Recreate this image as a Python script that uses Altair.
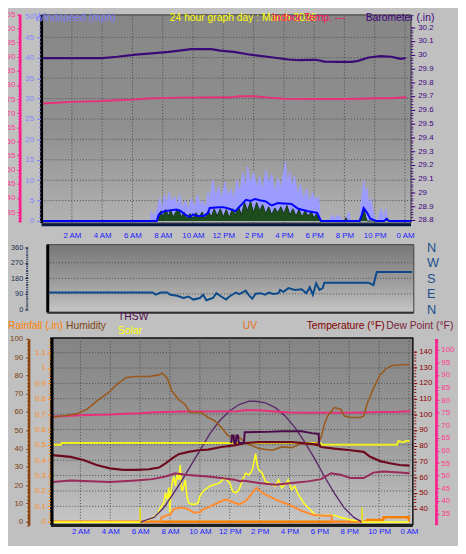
import altair as alt
import pandas as pd

FONT = "Liberation Sans"

# ---------------- data: (hour of day, value) ----------------
indoor_temp = [(0, 73.4), (1, 73.7), (2, 74.0), (4, 74.3), (5, 74.6), (6, 74.8), (7, 75.2),
               (9, 75.5), (12.5, 75.6), (13, 76.0), (14, 76.0), (15, 75.5), (16, 75.1),
               (18, 75.0), (20, 75.0), (21, 75.1), (22, 75.3), (23, 75.3), (24.1, 75.6)]

barometer = [(0, 29.975), (2, 29.975), (4, 29.975), (5, 29.985), (6.2, 30.0), (7.3, 30.01),
             (8.4, 30.02), (9.9, 30.04), (10.5, 30.04), (11.2, 30.04), (11.8, 30.03),
             (12.7, 30.02), (13.8, 30.0), (15.3, 29.98), (16.3, 29.965), (17.0, 29.96),
             (18.1, 29.963), (18.7, 29.95), (19.5, 29.948), (20.5, 29.948), (20.9, 29.955),
             (21.6, 29.98), (22.4, 29.99), (23.1, 29.985), (23.7, 29.97), (24.05, 29.976)]

wind_gust = [(0, 0), (7.2, 0), (7.25, 2.5), (7.4, 1.0), (7.6, 2.5), (7.8, 5.5), (8.0, 3.0), (8.1, 6.5),
             (8.3, 4.0), (8.4, 7.0), (8.6, 4.5), (8.8, 6.0), (9.0, 3.5), (9.1, 6.5), (9.3, 3.0),
             (9.5, 5.0), (9.7, 2.5), (9.9, 5.5), (10.1, 3.0), (10.3, 6.5), (10.5, 3.5), (10.6, 5.0),
             (10.8, 3.0), (11.0, 7.0), (11.1, 4.5), (11.3, 10.0), (11.5, 6.0), (11.7, 8.5),
             (11.9, 5.0), (12.1, 9.5), (12.3, 6.0), (12.5, 8.0), (12.7, 5.0), (12.9, 10.0),
             (13.1, 7.0), (13.3, 12.0), (13.5, 8.0), (13.6, 13.5), (13.8, 9.0), (14.0, 12.0),
             (14.2, 8.0), (14.4, 11.0), (14.6, 7.5), (14.8, 12.5), (15.0, 9.0), (15.2, 11.5),
             (15.4, 7.0), (15.6, 10.5), (15.8, 8.0), (16.0, 12.0), (16.1, 14.5), (16.25, 9.0),
             (16.4, 12.0), (16.55, 8.0), (16.7, 11.0), (16.9, 6.5), (17.1, 9.0), (17.3, 5.0),
             (17.5, 8.0), (17.7, 4.5), (17.9, 7.0), (18.1, 5.0), (18.3, 6.0), (18.4, 0.5),
             (18.6, 0), (19.0, 0), (19.2, 1.5), (19.4, 0.5), (19.6, 1.5), (19.8, 0.3), (20.0, 0),
             (20.3, 2.2), (20.4, 0), (21.0, 0), (21.1, 4.0), (21.27, 10.0), (21.4, 6.5),
             (21.5, 8.0), (21.6, 4.0), (21.75, 5.5), (21.9, 2.0), (22.0, 0.5), (22.2, 0),
             (22.4, 3.0), (22.6, 1.0), (22.75, 3.0), (22.85, 0), (24.4, 0)]

wind_low = [(0, 0), (7.6, 0), (7.7, 1.5), (7.9, 2.5), (8.0, 1.0), (8.2, 2.8), (8.4, 1.2), (8.5, 2.8),
            (8.7, 1.0), (8.9, 2.4), (9.1, 2.8), (9.2, 0.8), (9.4, 2.2), (9.6, 0.5), (9.8, 1.8),
            (10.0, 0.6), (10.2, 2.0), (10.4, 0.8), (10.6, 2.2), (10.8, 0.5), (11.0, 2.5),
            (11.2, 1.0), (11.4, 3.0), (11.6, 1.2), (11.8, 3.0), (12.0, 1.0), (12.2, 2.8),
            (12.4, 0.8), (12.6, 3.0), (12.8, 1.5), (13.0, 3.5), (13.2, 1.5), (13.4, 4.5),
            (13.6, 2.5), (13.8, 4.8), (14.0, 2.0), (14.2, 4.5), (14.4, 2.5), (14.6, 4.0),
            (14.8, 1.8), (15.0, 3.5), (15.2, 1.5), (15.4, 3.2), (15.6, 2.0), (15.8, 3.5),
            (16.0, 1.8), (16.2, 3.8), (16.4, 1.5), (16.6, 3.0), (16.8, 1.2), (17.0, 2.8),
            (17.2, 1.0), (17.4, 2.5), (17.6, 1.2), (17.8, 2.2), (18.0, 0.8), (18.2, 2.0),
            (18.35, 0), (20.0, 0), (20.1, 0.8), (20.2, 0), (21.1, 0), (21.2, 2.5), (21.3, 3.0),
            (21.4, 1.0), (21.5, 0), (22.7, 0), (22.8, 0.8), (22.9, 0), (24.4, 0)]

wind_avg = [(0, 0), (7.6, 0), (7.75, 1.6), (8.1, 2.4), (8.5, 2.6), (8.9, 2.8), (9.2, 2.4), (9.5, 1.5),
            (9.8, 1.0), (10.0, 1.6), (10.3, 1.2), (10.7, 1.2), (11.0, 2.0), (11.1, 3.2), (11.5, 3.3),
            (12.0, 3.4), (12.4, 3.0), (12.8, 2.4), (13.05, 3.4), (13.5, 5.2), (13.8, 4.9),
            (14.1, 5.4), (14.5, 5.0), (14.8, 4.8), (15.2, 3.8), (15.6, 4.4), (16.0, 4.3),
            (16.5, 4.2), (16.95, 3.0), (17.6, 2.4), (18.2, 2.0), (18.45, 0), (21.0, 0),
            (21.15, 1.5), (21.27, 3.2), (21.5, 2.0), (21.7, 0.6), (22.1, 0), (22.6, 0),
            (22.79, 0.5), (22.95, 0), (24.4, 0)]

wind_dir = [(0, 98), (6.83, 98), (7.05, 86), (7.37, 98), (7.8, 98), (8.02, 85), (8.46, 79),
            (8.89, 66), (9.21, 75), (9.54, 57), (9.97, 66), (10.19, 85), (10.4, 53), (10.84, 66),
            (11.06, 94), (11.38, 75), (11.71, 57), (11.92, 75), (12.36, 98), (12.57, 89),
            (12.79, 98), (13.0, 109), (13.22, 81), (13.44, 62), (13.66, 91), (13.98, 94),
            (14.3, 85), (14.52, 98), (14.85, 89), (15.18, 94), (15.28, 113), (15.5, 102),
            (15.83, 123), (16.26, 113), (16.7, 117), (17.02, 94), (17.24, 128), (17.45, 85),
            (17.67, 151), (17.89, 113), (18.1, 123), (18.21, 155), (21.13, 155), (21.46, 141),
            (21.68, 217), (24.02, 217)]

humidity = [(0.13, 57.3), (0.9, 57.9), (1.78, 59.1), (2.43, 61.5), (3.09, 66.0), (3.53, 68.6),
            (3.97, 71.3), (4.41, 74.9), (5.07, 78.9), (5.72, 79.4), (6.6, 79.4), (7.26, 80.3),
            (7.48, 81.2), (7.81, 78.5), (8.14, 71.3), (8.58, 66.8), (9.01, 64.1), (9.34, 59.7),
            (10.11, 59.7), (10.55, 57.0), (10.99, 55.2), (11.43, 51.6), (11.87, 47.1),
            (12.2, 46.2), (12.63, 46.2), (13.07, 43.0), (13.95, 40.0), (14.83, 39.1),
            (15.49, 40.9), (16.14, 40.5), (16.8, 42.7), (17.46, 42.3), (17.89, 43.0),
            (18.12, 46.2), (18.34, 53.4), (18.56, 57.9), (19.0, 62.4), (19.43, 61.5),
            (19.65, 57.9), (20.09, 57.0), (20.75, 57.0), (20.97, 57.9), (21.18, 64.1),
            (21.63, 73.1), (22.07, 80.3), (22.5, 83.9), (22.94, 85.6), (24.04, 86.0)]

temperature = [(0.13, 74.0), (1.34, 72.9), (2.2, 70.9), (3.09, 67.7), (3.97, 65.6), (4.85, 64.6),
               (5.72, 64.6), (6.6, 65.0), (7.26, 66.1), (7.7, 68.8), (8.14, 71.9), (8.58, 74.6),
               (9.23, 76.1), (9.89, 77.1), (10.55, 77.5), (11.43, 79.2), (12.3, 80.2),
               (13.07, 81.7), (13.95, 82.3), (16.14, 82.3), (17.46, 81.2), (18.01, 80.2),
               (18.12, 79.2), (19.0, 78.1), (20.09, 77.1), (20.97, 76.1), (21.4, 72.9),
               (22.07, 70.2), (22.72, 68.8), (23.38, 67.7), (24.04, 67.3)]

dew_point = [(0.13, 56.9), (1.34, 57.9), (3.97, 56.9), (5.72, 57.9), (6.82, 58.75), (7.7, 60.4),
             (8.36, 62.5), (8.58, 62.1), (9.01, 61.5), (9.89, 60.9), (10.55, 60.4), (11.43, 59.4),
             (12.3, 58.4), (12.74, 57.3), (12.85, 57.9), (13.95, 56.3), (15.05, 55.2),
             (16.14, 56.3), (17.24, 57.3), (18.12, 58.75), (18.78, 62.5), (19.43, 61.5),
             (20.09, 59.4), (20.97, 59.4), (21.62, 62.9), (22.28, 63.6), (23.38, 62.9),
             (24.04, 62.5)]

thsw = [(12.1, 81.7), (12.15, 86.5), (12.25, 86.5), (12.3, 81.7), (12.4, 81.7), (12.45, 86.5),
        (12.55, 86.5), (12.6, 81.7), (12.95, 81.7), (13.0, 88.6), (14.5, 88.8), (15.5, 89.2),
        (16.8, 89.2), (17.5, 88.0), (17.95, 87.5), (18.0, 80.2)]

indoor_humidity = [(0, 42.1), (0.7, 42.1), (0.75, 43.0), (18.1, 43.0), (18.15, 42.1), (23.2, 42.1),
                   (23.3, 44.1), (23.6, 43.4), (23.8, 44.1), (24.04, 44.1)]

solar = [(0, 0), (6.01, 0), (6.27, 3), (6.71, 17), (7.15, 44), (7.37, 80), (7.59, 106), (7.7, 160),
         (7.81, 124), (7.92, 187), (7.99, 53), (8.03, 142), (8.14, 214), (8.25, 249), (8.36, 196),
         (8.47, 258), (8.58, 231), (8.69, 312), (8.75, 196), (8.82, 169), (8.91, 196),
         (9.02, 231), (9.13, 142), (9.24, 106), (9.45, 97), (9.67, 97), (9.89, 106), (10.0, 142),
         (10.22, 169), (10.66, 196), (11.32, 214), (11.65, 240), (11.98, 217), (12.19, 169),
         (12.41, 160), (12.63, 178), (12.85, 231), (13.07, 267), (13.29, 258), (13.51, 285),
         (13.62, 330), (13.73, 374), (13.84, 312), (13.95, 285), (14.17, 267), (14.39, 222),
         (14.61, 214), (14.83, 205), (15.05, 196), (15.27, 231), (15.48, 187), (15.7, 205),
         (15.92, 231), (16.14, 178), (16.36, 196), (16.58, 151), (16.8, 124), (17.02, 97),
         (17.24, 80), (17.46, 62), (17.68, 44), (17.9, 35), (18.34, 38), (18.99, 38),
         (19.43, 26), (20.09, 13), (20.86, 0), (24.0, 0)]

solar_max = [(6.01, 0), (6.93, 26), (7.59, 79), (8.03, 133), (8.69, 213), (9.35, 303), (10.0, 392),
             (10.66, 482), (11.32, 553), (11.98, 607), (12.63, 642), (13.29, 660), (13.73, 660),
             (14.39, 651), (15.05, 625), (15.7, 580), (16.36, 517), (17.02, 437), (17.68, 347),
             (18.34, 249), (18.99, 160), (19.65, 79), (20.31, 26), (20.86, 0)]

uv_index = [(6.0, 0), (7.4, 0), (7.42, 0.26), (8.03, 0.44), (8.25, 0.71), (8.69, 0.80), (9.13, 0.74),
            (9.57, 0.53), (10.0, 0.53), (10.22, 0.71), (10.66, 0.85), (11.32, 1.10), (11.76, 1.24),
            (12.19, 1.10), (12.63, 0.97), (13.07, 1.15), (13.51, 1.6), (13.78, 1.87), (14.17, 1.6),
            (14.61, 1.42), (15.05, 1.24), (15.48, 1.10), (15.92, 0.97), (16.36, 0.80),
            (16.8, 0.62), (17.24, 0.49), (17.68, 0.38), (17.9, 0.38), (18.34, 0.35),
            (18.82, 0.35), (18.84, 0), (20.86, 0)]

rainfall = [(0, 0), (21.19, 0), (21.2, 0.011), (22.28, 0.011), (22.3, 0.028), (23.98, 0.028), (24.0, 0)]

sun_events = [6.0, 20.86]

hour_ticks = [2, 4, 6, 8, 10, 12, 14, 16, 18, 20, 22, 24]
wind_ticks = [0, 5, 10, 15, 20, 25, 30, 35, 40, 45, 50]
wind_minor = list(range(0, 51))
wind_grid = [5, 10, 15, 20, 25, 30, 35, 40, 45]
baro_ticks = [28.8, 28.9, 29.0, 29.1, 29.2, 29.3, 29.4, 29.5, 29.6, 29.7, 29.8, 29.9, 30.0, 30.1, 30.2]
baro_minor = [round(28.8 + 0.02 * i, 2) for i in range(71)]
indoor1_ticks = [35, 40, 45, 50, 55, 60, 65, 70, 75, 80, 85, 90, 95, 100, 105]
indoor1_minor = list(range(32, 106))
dir_ticks = [0, 90, 180, 270, 360]
dir_minor = list(range(0, 361, 10))
dir_grid = [90, 180, 270]
compass_ticks = [0, 90, 180, 270, 360]
hum_ticks = [0, 10, 20, 30, 40, 50, 60, 70, 80, 90, 100]
hum_minor = list(range(-2, 101, 2))
rain_ticks = [0, 0.1, 0.2, 0.3, 0.4, 0.5, 0.6, 0.7, 0.8, 0.9, 1.0, 1.1]
rain_minor = [round(0.02 * i, 2) for i in range(0, 60)]
rain_grid = [0.1, 0.2, 0.3, 0.4, 0.5, 0.6, 0.7, 0.8, 0.9, 1.0, 1.1]
temp_ticks = [40, 50, 60, 70, 80, 90, 100, 110, 120, 130, 140]
temp_minor = list(range(32, 149, 2))
indoor3_ticks = [35, 40, 45, 50, 55, 60, 65, 70, 75, 80, 85, 90, 95, 100]
indoor3_minor = list(range(31, 105))

# ---------------- helpers ----------------
W = 458
H = 538
GRID = "#4a4a4a"
HOUR_LABEL = ("datum.value == 12 ? '12 PM' : datum.value == 24 ? '0 AM' : "
              "datum.value < 12 ? datum.value + ' AM' : (datum.value - 12) + ' PM'")


def sc(domain, rng):
    return alt.Scale(domain=domain, range=rng, nice=False, zero=False)


X1 = sc([0, 24.4], [34.2, 410.2])
X2 = sc([0, 24], [42, 411])
X3 = sc([0, 24], [43.3, 408.1])
WIND = sc([0, 50], [212, 4.3])
BARO = sc([28.8, 30.2], [211, 14.7])
IN1 = sc([31.5, 105], [213, 1.6])
DIR = sc([0, 360], [302, 238.7])
HUM = sc([-2, 100], [521.7, 332])
RAIN = sc([0, 1.2], [518, 330.36])
TEMP = sc([40, 140], [504.7, 344.7])
IN3 = sc([30.5, 104.5], [521.2, 331.5])
SOL = sc([0, 1000], [518.5, 332])
UVS = sc([0, 10], [518.5, 332])


def df_of(pts):
    return pd.DataFrame(pts, columns=["h", "v"])


def line(pts, xs, ys, color, width=2.0):
    return alt.Chart(df_of(pts)).mark_line(color=color, strokeWidth=width).encode(
        x=alt.X("h:Q", scale=xs, axis=None),
        y=alt.Y("v:Q", scale=ys, axis=None))


def area(pts, xs, ys, color, edge):
    return alt.Chart(df_of(pts)).mark_area(
        color=color, opacity=1, line={"color": edge, "strokeWidth": 1}).encode(
        x=alt.X("h:Q", scale=xs, axis=None),
        y=alt.Y("v:Q", scale=ys, axis=None, stack=None),
        y2=alt.datum(0))


def grad(top, mid, bottom):
    return {"gradient": "linear", "x1": 0, "x2": 0, "y1": 0, "y2": 1,
            "stops": [{"offset": 0, "color": top}, {"offset": 0.55, "color": mid},
                      {"offset": 1, "color": bottom}]}


def box(x0, x1, y0, y1, xs, ys, **mark):
    df = pd.DataFrame({"x0": [x0], "x1": [x1], "y0": [y0], "y1": [y1]})
    return alt.Chart(df).mark_rect(**mark).encode(
        x=alt.X("x0:Q", scale=xs, axis=None), x2="x1:Q",
        y=alt.Y("y0:Q", scale=ys, axis=None), y2="y1:Q")


def vrule(xv, y0, y1, xs, ys, color, width, dash=None, axis=None):
    vals = xv if isinstance(xv, list) else [xv]
    df = pd.DataFrame({"x": vals, "y0": y0, "y1": y1})
    kw = dict(color=color, strokeWidth=width)
    if dash:
        kw["strokeDash"] = dash
    return alt.Chart(df).mark_rule(**kw).encode(
        x=alt.X("x:Q", scale=xs, axis=axis),
        y=alt.Y("y0:Q", scale=ys, axis=None), y2="y1:Q")


def hrule(yv, x0, x1, xs, ys, color, width, dash=None):
    vals = yv if isinstance(yv, list) else [yv]
    df = pd.DataFrame({"y": vals, "x0": x0, "x1": x1})
    kw = dict(color=color, strokeWidth=width)
    if dash:
        kw["strokeDash"] = dash
    return alt.Chart(df).mark_rule(**kw).encode(
        y=alt.Y("y:Q", scale=ys, axis=None),
        x=alt.X("x0:Q", scale=xs, axis=None), x2="x1:Q")


def ax(**kw):
    base = dict(title=None, grid=False, labelFont=FONT, labelFontSize=8,
                labelOverlap=False, labelFlush=False, zindex=2)
    base.update(kw)
    return alt.Axis(**base)


def yaxis(ys, start, **kw):
    return alt.Chart(pd.DataFrame({"v": [start]})).mark_point(opacity=0).encode(
        y=alt.Y("v:Q", scale=ys, axis=ax(**kw)))


def label(text, x, y, color, size=10.5, align="left"):
    return alt.Chart(pd.DataFrame({"t": [text]})).mark_text(
        align=align, baseline="alphabetic", font=FONT, fontSize=size, color=color).encode(
        text="t:N", x=alt.value(x), y=alt.value(y))


layers = []

# ---------------- panel 1 : wind / barometer / indoor temp ----------------
layers.append(box(0, 24.4, -0.5, 50.5, X1, WIND,
                  fill=grad("#868686", "#909090", "#b2b2b2"), stroke="#303030", strokeWidth=1))
layers.append(vrule(hour_ticks, -0.5, 50.5, X1, WIND, GRID, 1, dash=[1, 2],
                    axis=ax(orient="bottom", offset=-(H - 214), values=hour_ticks, labelExpr=HOUR_LABEL,
                            ticks=False, domain=False, labelColor="#2020ff", labelPadding=9)))
layers.append(hrule(wind_grid, 0, 24.4, X1, WIND, GRID, 1, dash=[1, 2]))
layers.append(area(wind_gust, X1, WIND, "#9c9cff", "#9c9cff"))
layers.append(area(wind_low, X1, WIND, "#1d4d1d", "#123812"))
layers.append(line(wind_avg, X1, WIND, "#0000ff", 2))
layers.append(line(indoor_temp, X1, IN1, "#e8307a", 2))
layers.append(line(barometer, X1, BARO, "#3c0a78", 2.2))
layers.append(vrule(0, -0.5, 50.5, X1, WIND, "#000000", 3))
layers.append(hrule(-0.9, 0, 24.4, X1, WIND, "#0a1a40", 3))

# ---------------- panel 2 : wind direction ----------------
layers.append(box(-0.13, 24.13, -17, 375, X2, DIR,
                  fill=grad("#787878", "#9c9c9c", "#c6c6c6"), stroke="#404040", strokeWidth=1))
layers.append(hrule(dir_grid, -0.13, 24.13, X2, DIR, GRID, 1, dash=[1, 2]))
layers.append(line(wind_dir, X2, DIR, "#0a4a8a", 2))
layers.append(vrule(-0.1, -17, 375, X2, DIR, "#000000", 3))
layers.append(hrule(-19, -0.13, 24.13, X2, DIR, "#303030", 2))

# ---------------- panel 3 : humidity / temperature / solar ----------------
layers.append(box(0.03, 24.26, -1.6, 100.5, X3, HUM,
                  fill=grad("#848484", "#9a9a9a", "#c8c8c8"), stroke="#101010", strokeWidth=1.5))
layers.append(vrule(hour_ticks, -1.6, 100.5, X3, HUM, GRID, 1, dash=[1, 2],
                    axis=ax(orient="bottom", offset=-(H - 521), values=hour_ticks, labelExpr=HOUR_LABEL,
                            ticks=False, domain=False, labelColor="#2020ff", labelPadding=3)))
layers.append(hrule(rain_grid, 0.03, 24.26, X3, RAIN, GRID, 1, dash=[1, 2]))
layers.append(line(rainfall, X3, RAIN, "#ff7f00", 2.5))
layers.append(line(solar, X3, SOL, "#ffff20", 1.6))
layers.append(line(uv_index, X3, UVS, "#ff8c30", 2))
layers.append(line(solar_max, X3, SOL, "#5a2a6a", 1.4))
layers.append(vrule(sun_events, 0, 80, X3, SOL, "#f0e000", 1.5))
layers.append(line(indoor_humidity, X3, HUM, "#f0f020", 2))
layers.append(line(indoor_temp, X3, IN3, "#e8307a", 2))
layers.append(line(humidity, X3, HUM, "#9a5a1e", 1.6))
layers.append(line(dew_point, X3, TEMP, "#9a2a5a", 2))
layers.append(line(temperature, X3, TEMP, "#6e0a1e", 2.2))
layers.append(line(thsw, X3, TEMP, "#4a0a4a", 2))
layers.append(vrule(0.1, -1.6, 100.5, X3, HUM, "#000000", 3))
layers.append(hrule(-2.3, 0.03, 24.26, X3, HUM, "#202020", 2.5))

# ---------------- axes ----------------
PINK = "#ff1a8c"
layers.append(yaxis(IN1, 35, orient="left", offset=-12, values=indoor1_ticks, labelColor="#ff3a90",
                    tickColor=PINK, tickSize=3, labelPadding=2, domainColor=PINK, domainWidth=2.5))
layers.append(yaxis(IN1, 35, orient="left", offset=-12, values=indoor1_minor, labels=False,
                    tickColor=PINK, tickSize=2, domain=False))
layers.append(yaxis(WIND, 0, orient="left", offset=-33, values=wind_ticks, labelColor="#8484ff",
                    tickColor="#8484ff", tickSize=4, labelPadding=3, domain=False))
layers.append(yaxis(WIND, 0, orient="left", offset=-33, values=wind_minor, labels=False,
                    tickColor="#8484ff", tickSize=2, domain=False))
layers.append(yaxis(BARO, 29, orient="right", offset=410 - W, values=baro_ticks, labelColor="#400080",
                    tickColor="#400080", tickSize=4, labelPadding=3, domain=False, format="~g"))
layers.append(yaxis(BARO, 29, orient="right", offset=410 - W, values=baro_minor, labels=False,
                    tickColor="#400080", tickSize=2, domain=False))
layers.append(yaxis(DIR, 0, orient="left", offset=-20, values=dir_ticks, labelColor="#203050",
                    tickColor="#203050", tickSize=3, labelPadding=2, labelFontSize=7.5, domain=False))
layers.append(yaxis(DIR, 0, orient="left", offset=-20, values=dir_minor, labels=False,
                    tickColor="#203050", tickSize=2, domain=False))
layers.append(yaxis(DIR, 0, orient="right", offset=426 - W, values=compass_ticks,
                    labelExpr="datum.value == 90 ? 'E' : datum.value == 180 ? 'S' : datum.value == 270 ? 'W' : 'N'",
                    labelColor="#1a4f8f", labelFontSize=13, ticks=False, domain=False, labelPadding=0))
layers.append(yaxis(HUM, 0, orient="left", offset=-21, values=hum_ticks, labelColor="#7a4010",
                    tickColor="#8b4513", tickSize=3, labelPadding=3, domainColor="#8b4513",
                    domainWidth=2.5))
layers.append(yaxis(HUM, 0, orient="left", offset=-21, values=hum_minor, labels=False,
                    tickColor="#8b4513", tickSize=2, domain=False))
layers.append(yaxis(RAIN, 0, orient="left", offset=-43, values=rain_ticks, labelColor="#ff8c1a",
                    tickColor="#ff8c1a", tickSize=3, labelPadding=2, domain=False, format="~g"))
layers.append(yaxis(RAIN, 0, orient="left", offset=-43, values=rain_minor, labels=False,
                    tickColor="#ff8c1a", tickSize=2, domain=False))
layers.append(yaxis(TEMP, 40, orient="right", offset=413 - W, values=temp_ticks, labelColor="#8b0000",
                    tickColor="#8b0000", tickSize=3, labelPadding=2, domain=False))
layers.append(yaxis(TEMP, 40, orient="right", offset=413 - W, values=temp_minor, labels=False,
                    tickColor="#8b0000", tickSize=2, domain=False))
layers.append(yaxis(IN3, 35, orient="right", offset=435.5 - W, values=indoor3_ticks, labelColor="#ff3a90",
                    tickColor=PINK, tickSize=3, labelPadding=2, domainColor=PINK, domainWidth=2.5))
layers.append(yaxis(IN3, 35, orient="right", offset=435.5 - W, values=indoor3_minor, labels=False,
                    tickColor=PINK, tickSize=2, domain=False))

# ---------------- titles ----------------
layers.append(label("Windspeed (mph)", 27, 8, "#8080ff"))
layers.append(label("24 hour graph day : March 2026", 164.7, 8, "#ffff00"))
layers.append(label("Indoor Temp. ---", 268.7, 8, "#ff1060"))
layers.append(label("Barometer (.in)", 364, 8, "#400080"))
layers.append(label("Rainfall (.in)", 0, 322, "#ff8000"))
layers.append(label("Humidity", 59, 322, "#7b4513"))
layers.append(label("THSW", 112, 313, "#50104f"))
layers.append(label("Solar", 112, 327, "#ffff00"))
layers.append(label("UV", 239, 322, "#e8701a"))
layers.append(label("Temperature (°F)", 304, 322, "#800000"))
layers.append(label("Dew Point (°F)", 385, 322, "#7a1f3d"))

chart = alt.layer(*layers).resolve_scale(x="independent", y="independent").properties(
    width=W, height=H, autosize=alt.AutoSizeParams(type="none"), padding=0,
    background="#c0c0c0").configure_view(strokeWidth=0)

chart.save("out.html", embed_options={"renderer": "svg", "actions": False})
